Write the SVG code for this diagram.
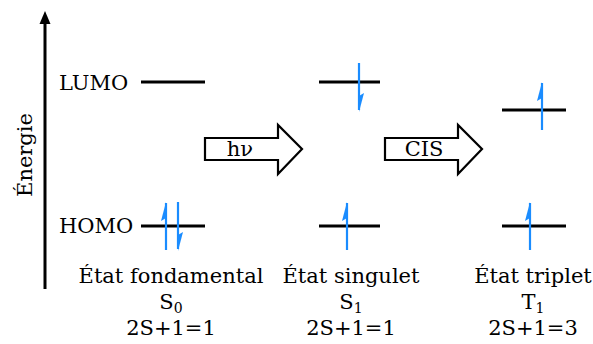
<svg xmlns="http://www.w3.org/2000/svg" width="593" height="344" viewBox="0 0 593 344">
<style>
text{font-family:"DejaVu Serif","Liberation Serif",serif;fill:#000;font-size:21px}
.lvl{stroke:#000;stroke-width:3;fill:none}
.spin{stroke:#1a8cff;stroke-width:2.2;fill:none}
.head{fill:#1a8cff;stroke:none}
.blk{fill:#fff;stroke:#000;stroke-width:2.2;stroke-linejoin:miter}
.c{text-anchor:middle}
.sub{font-size:14px}
</style>
<defs>
<g id="up"><line class="spin" x1="0" y1="48" x2="0" y2="1"/><polygon class="head" points="0,0 -5,19 0,16"/></g>
<g id="down"><line class="spin" x1="0" y1="0" x2="0" y2="47"/><polygon class="head" points="0,49 5,30 0,33"/></g>
</defs>
<g id="axis">
<line x1="45" y1="289" x2="45" y2="22" stroke="#000" stroke-width="3"/>
<polygon points="45,11 39.5,24 50.5,24" fill="#000"/>
<text class="c" transform="translate(32,155) rotate(-90)">Énergie</text>
</g>
<g id="labels">
<text x="59" y="90">LUMO</text>
<text x="59" y="233">HOMO</text>
</g>
<g id="ground">
<line class="lvl" x1="141" y1="82" x2="205" y2="82"/>
<line class="lvl" x1="141" y1="226" x2="205" y2="226"/>
<use href="#up" x="166" y="202"/>
<use href="#down" x="178" y="202"/>
<text class="c" x="171" y="283">État fondamental</text>
<text class="c" x="171" y="309">S<tspan class="sub" dy="4">0</tspan></text>
<text class="c" x="171" y="335">2S+1=1</text>
</g>
<g id="singlet">
<line class="lvl" x1="319" y1="82" x2="380" y2="82"/>
<line class="lvl" x1="319" y1="226" x2="380" y2="226"/>
<use href="#down" x="359" y="63"/>
<use href="#up" x="347" y="202"/>
<text class="c" x="351" y="283">État singulet</text>
<text class="c" x="351" y="309">S<tspan class="sub" dy="4">1</tspan></text>
<text class="c" x="351" y="335">2S+1=1</text>
</g>
<g id="triplet">
<line class="lvl" x1="502" y1="110" x2="566" y2="110"/>
<line class="lvl" x1="502" y1="226" x2="566" y2="226"/>
<use href="#up" x="542" y="82"/>
<use href="#up" x="530" y="202"/>
<text class="c" x="533" y="283">État triplet</text>
<text class="c" x="533" y="309">T<tspan class="sub" dy="4">1</tspan></text>
<text class="c" x="533" y="335">2S+1=3</text>
</g>
<g id="connectors">
<g id="hv">
<polygon class="blk" points="205,138 278,138 278,125 302,149 278,174 278,160 205,160"/>
<text class="c" x="240" y="156" font-size="17">hν</text>
</g>
<g id="cis">
<polygon class="blk" points="385,138 458,138 458,125 482,149 458,174 458,160 385,160"/>
<text class="c" x="424" y="156" font-size="17">CIS</text>
</g>
</g>
</svg>
